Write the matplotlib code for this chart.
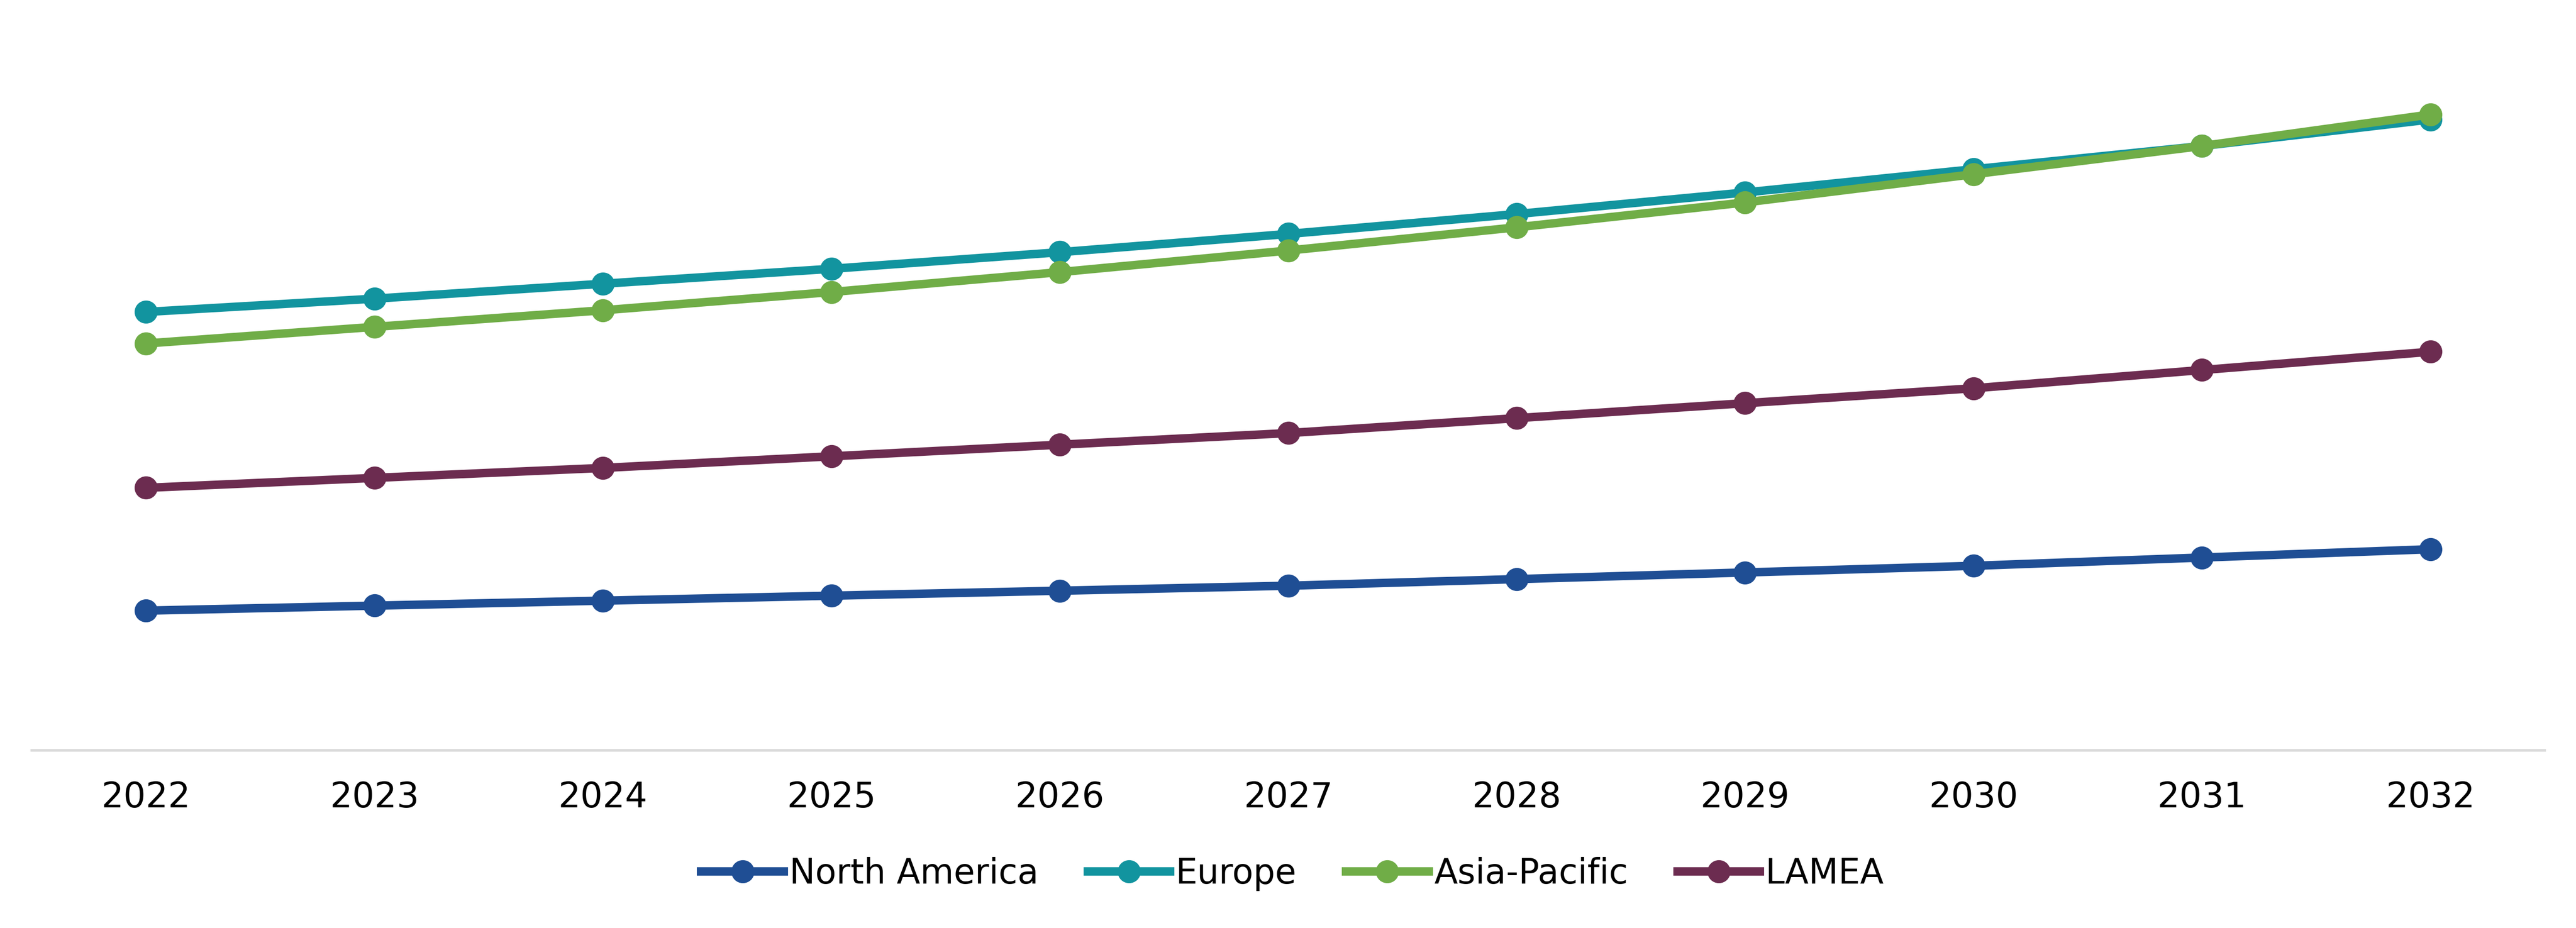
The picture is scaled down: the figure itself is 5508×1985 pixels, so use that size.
import matplotlib
matplotlib.use('Agg')
import numpy as np
import matplotlib.pyplot as plt
from matplotlib import rcParams

rcParams.update({
    'font.family': ['DejaVu Sans'],
    'font.size': 54,
})

years = ["2022", "2023", "2024", "2025", "2026", "2027", "2028", "2029", "2030", "2031", "2032"]

north_america = [84.2, 87.2, 90.2, 93.2, 96.2, 99.2, 103.2, 107.2, 111.2, 116.2, 121.2]
europe = [264.2, 272.2, 281.2, 290.2, 300.2, 311.2, 323.2, 336.2, 350.2, 364.2, 380.2]
asia_pacific = [245.2, 255.2, 265.2, 276.2, 288.2, 301.2, 315.2, 330.2, 347.2, 364.2, 383.2]
lamea = [158.2, 164.2, 170.2, 177.2, 184.2, 191.2, 200.2, 209.2, 218.2, 229.2, 240.2]

series = [
    ("North America", north_america, '#1f4e94'),
    ("Europe", europe, '#12949f'),
    ("Asia-Pacific", asia_pacific, '#70ad47'),
    ("LAMEA", lamea, '#6c2c50'),
]

W, H = 5508, 1985
fig = plt.figure(figsize=(W / 100, H / 100), dpi=100)
ax = fig.add_axes([68 / W, (H - 1605) / H, (5441 - 68) / W, 1605 / H])

x = np.arange(len(years))
for name, vals, col in series:
    ax.plot(x, vals, color=col, lw=13, marker='o', ms=34.5, label=name)

ax.set_xlim(-0.5, len(years) - 0.5)
ax.set_ylim(0, 452.2)
ax.set_xticks(x)
ax.set_xticklabels(years)
ax.set_yticks([])
ax.tick_params(axis='x', length=0, pad=47, labelsize=54)
for s in ['top', 'left', 'right']:
    ax.spines[s].set_visible(False)
ax.spines['bottom'].set_color('#d9d9d9')
ax.spines['bottom'].set_linewidth(4.0)

# legend below the axis, centred where the reference has it
ax.legend(loc='center', bbox_to_anchor=(2764 / W, 1 - 1869 / H), bbox_transform=fig.transFigure,
          ncol=4, frameon=False, fontsize=53, handlelength=2.4, handletextpad=0.16,
          columnspacing=1.43)

fig.savefig('out.png', dpi=100, facecolor='white')
